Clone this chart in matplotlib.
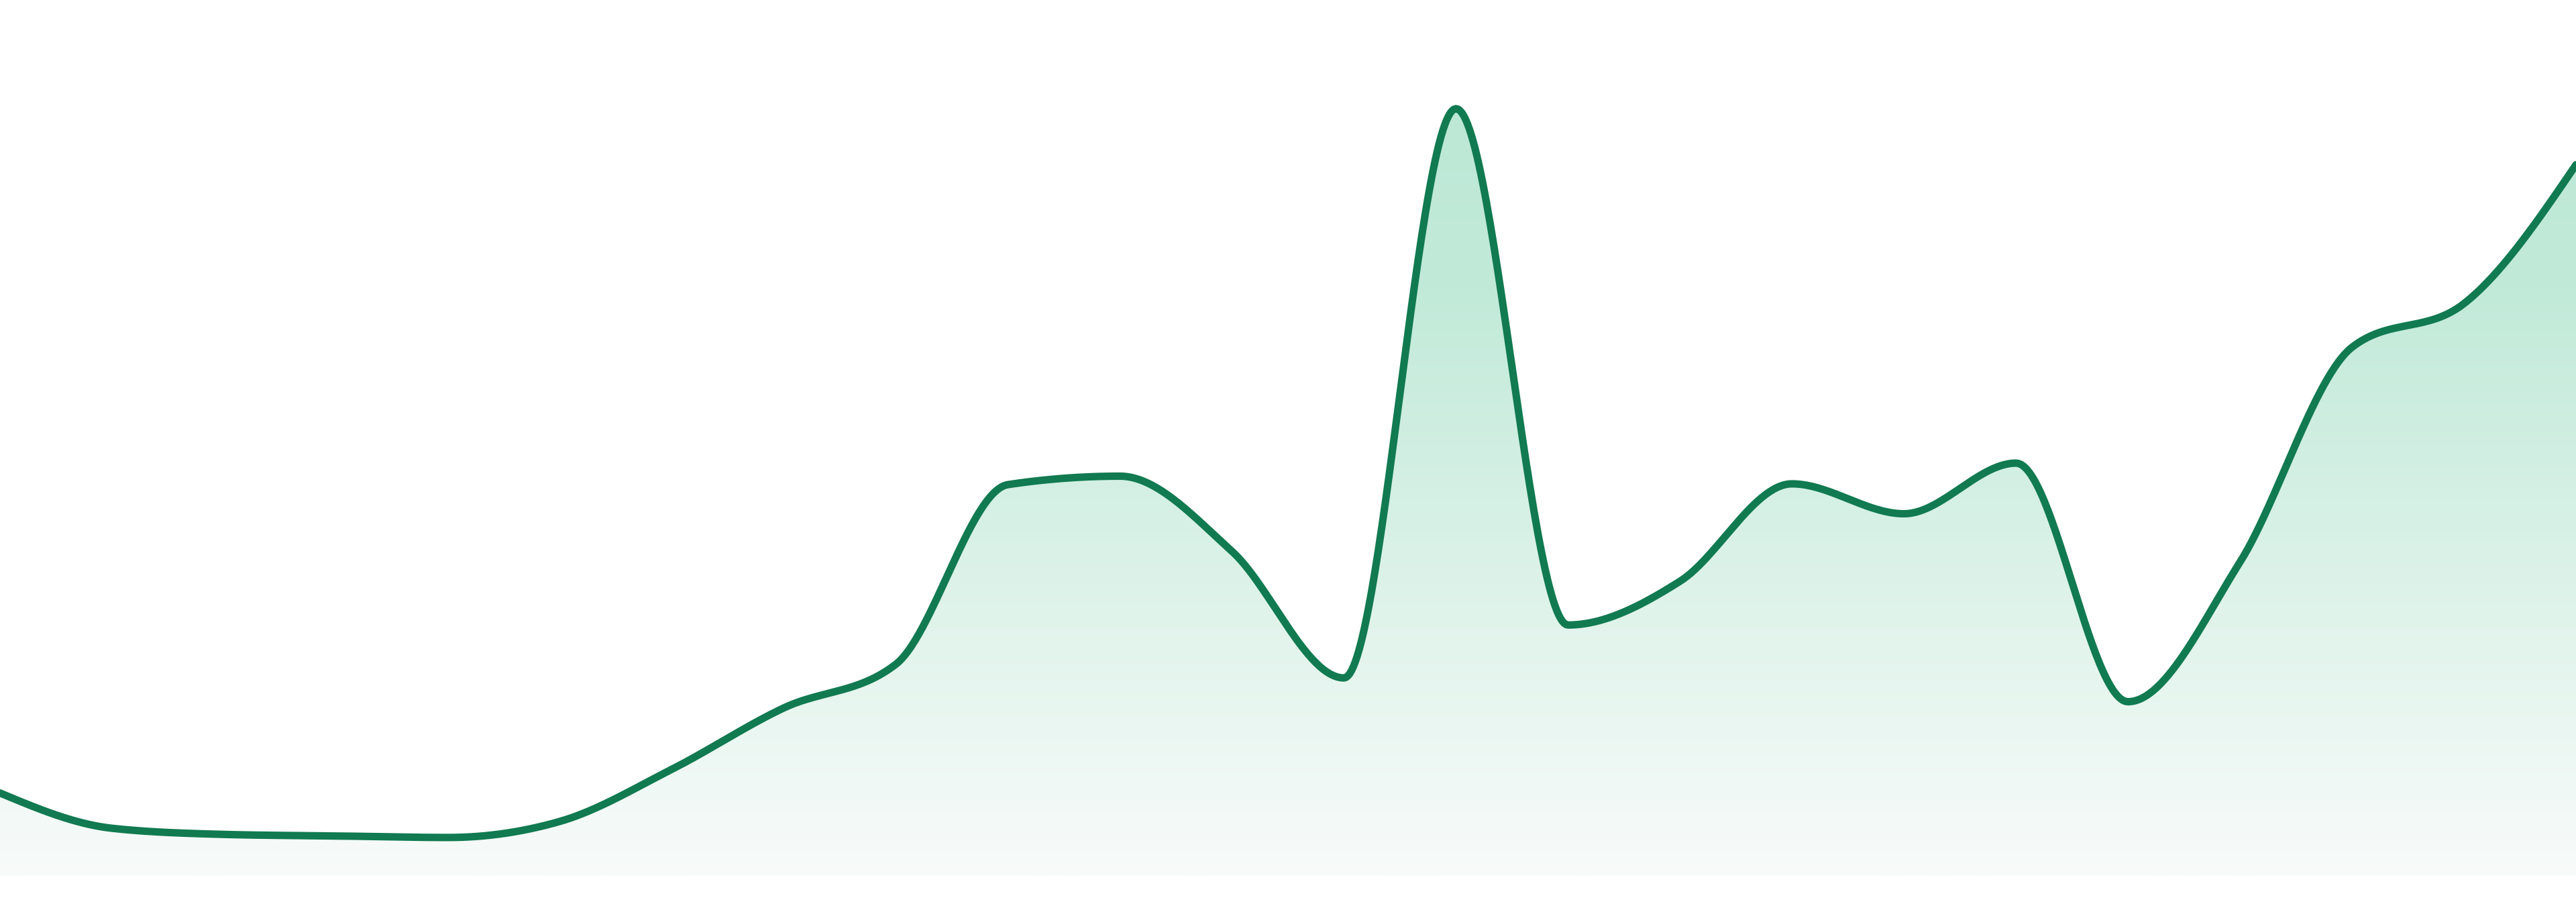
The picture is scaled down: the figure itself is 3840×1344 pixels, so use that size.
import numpy as np
import matplotlib
matplotlib.use("Agg")
import matplotlib.pyplot as plt
from matplotlib.colors import LinearSegmentedColormap

# series values, one per evenly spaced step
steps = list(range(24))
values = [10.8, 6.2, 5.4, 5.2, 5.0, 7.1, 13.9, 21.9, 27.6, 51.0, 52.1, 42.3,
          25.8, 100.0, 32.7, 38.4, 51.1, 47.2, 53.8, 22.7, 40.9, 68.9, 74.6, 92.7]

line_color = "#117a50"


def monotone_x(x, y, n=60):
    # monotone cubic (same idea as d3.curveMonotoneX)
    x = np.asarray(x, float)
    y = np.asarray(y, float)
    h = np.diff(x)
    s = np.diff(y) / h
    t = np.zeros_like(y)
    for i in range(1, len(y) - 1):
        s0, s1 = s[i - 1], s[i]
        p = (s0 * h[i] + s1 * h[i - 1]) / (h[i - 1] + h[i])
        t[i] = (np.sign(s0) + np.sign(s1)) * min(abs(s0), abs(s1), 0.5 * abs(p))
    t[0] = (3 * s[0] - t[1]) / 2
    t[-1] = (3 * s[-1] - t[-2]) / 2
    xs, ys = [], []
    u = np.linspace(0, 1, n)
    for i in range(len(x) - 1):
        dx = h[i] / 3
        p0 = (x[i], y[i])
        p1 = (x[i] + dx, y[i] + dx * t[i])
        p2 = (x[i + 1] - dx, y[i + 1] - dx * t[i + 1])
        p3 = (x[i + 1], y[i + 1])
        b = [(1 - u) ** 3, 3 * (1 - u) ** 2 * u, 3 * (1 - u) * u ** 2, u ** 3]
        xs.append(sum(bk * pk[0] for bk, pk in zip(b, (p0, p1, p2, p3))))
        ys.append(sum(bk * pk[1] for bk, pk in zip(b, (p0, p1, p2, p3))))
    return np.concatenate(xs), np.concatenate(ys)


xs, ys = monotone_x(steps, values)

fig = plt.figure(figsize=(38.4, 13.44), dpi=100)
ax = fig.add_axes([0, 0, 1, 1])
ax.set_xlim(0, 23)
ax.set_ylim(-3.41, 114.17)
ax.axis("off")

# gradient fill under the curve
fill = ax.fill_between(xs, 0, ys, color="none", lw=0)
cmap = LinearSegmentedColormap.from_list(
    "g", [(0.0, "#f8fbfa"), (0.757, "#c2ead9"), (1.0, "#bde8d6")])
grad = np.linspace(0, 1, 512).reshape(-1, 1)
img = ax.imshow(grad, cmap=cmap, aspect="auto", origin="lower",
                extent=(0, 23, 0, 100), interpolation="bicubic", zorder=1)
img.set_clip_path(fill.get_paths()[0], transform=ax.transData)

ax.plot(xs, ys, color=line_color, lw=8, solid_capstyle="round",
        solid_joinstyle="round", zorder=3)

fig.savefig("out.png", dpi=100, facecolor="white")
